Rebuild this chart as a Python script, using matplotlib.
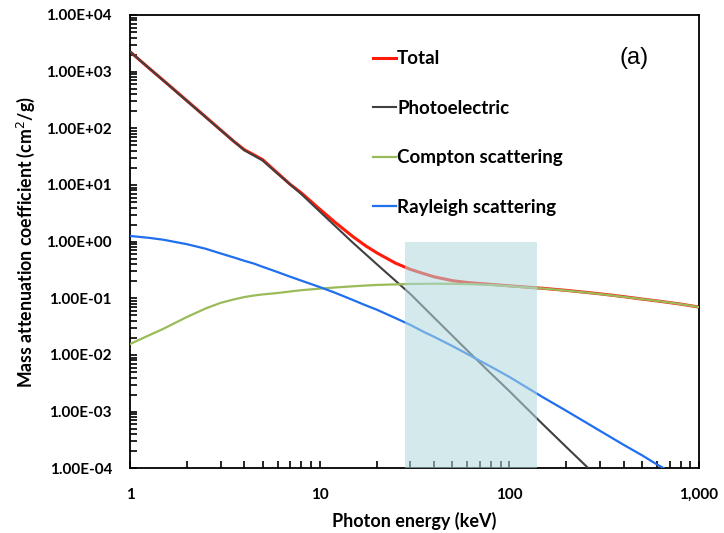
import matplotlib.pyplot as plt
import matplotlib.ticker as mticker
import numpy as np

# photon energies (keV) and mass attenuation coefficients (cm2/g)
energy = [1, 1.25, 1.5, 2, 2.5, 3, 3.5, 4, 4.5, 5, 6, 7, 8, 10, 12, 15, 17.5,
          20, 25, 30, 35, 40, 50, 60, 80, 100, 150, 200, 300, 400, 500, 600,
          800, 1000]
total = [2250, 1175, 700, 305, 160, 94, 60, 42, 34, 28, 16.2, 10.2, 7.25, 3.75,
         2.22, 1.22, 0.84, 0.635, 0.42, 0.325, 0.275, 0.24, 0.205, 0.19, 0.176,
         0.166, 0.150, 0.138, 0.120, 0.107, 0.097, 0.090, 0.079, 0.070]
compton = [0.0156, 0.022, 0.029, 0.047, 0.066, 0.083, 0.095, 0.105, 0.112,
           0.117, 0.124, 0.132, 0.139, 0.148, 0.155, 0.163, 0.168, 0.172,
           0.176, 0.179, 0.180, 0.181, 0.180, 0.178, 0.172, 0.164, 0.149,
           0.137, 0.119, 0.106, 0.097, 0.090, 0.079, 0.070]
rayleigh = [1.26, 1.17, 1.08, 0.90, 0.75, 0.62, 0.53, 0.46, 0.41, 0.36, 0.29,
            0.24, 0.205, 0.158, 0.126, 0.093, 0.075, 0.063, 0.045, 0.034,
            0.026, 0.021, 0.0144, 0.0104, 0.0062, 0.0041, 0.0018, 0.00103,
            0.00046, 0.00026, 0.00017, 0.000117, 0.000068, 0.000044]
photo_energy = [1, 1.5, 2, 3, 4, 4.5, 5, 6, 8, 10, 15, 20, 30, 40, 60, 80,
                100, 150, 200, 300]
photo = [2250, 693, 301, 93, 41, 33, 27, 15.8, 6.9, 3.4, 0.95, 0.40, 0.12,
         0.046, 0.012, 0.0047, 0.0023, 0.0006, 0.000236, 0.000064]

band = [28, 140]  # highlighted energy range

plt.rcParams['font.family'] = ['Lato', 'DejaVu Sans']

fig = plt.figure(figsize=(7.24, 5.33), dpi=100)
ax = fig.add_axes([0.1796, 0.1214, 0.7859, 0.8505])

ax.plot(energy, total, color='#ff1a0a', lw=2.2, label='Total', zorder=2)
ax.plot(photo_energy, photo, color='#404040', lw=1.5, label='Photoelectric', zorder=3)
ax.plot(energy, compton, color='#9bbb59', lw=1.6, label='Compton scattering', zorder=3)
ax.plot(energy, rayleigh, color='#1f6fee', lw=1.6, label='Rayleigh scattering', zorder=3)

ax.fill_between(band, 1e-4, 1, color='#b0d8de', alpha=0.55, lw=0, zorder=5)

ax.set_xscale('log')
ax.set_yscale('log')
ax.set_xlim(1, 1000)
ax.set_ylim(1e-4, 1e4)

ax.xaxis.set_major_locator(mticker.LogLocator(base=10))
ax.yaxis.set_major_locator(mticker.LogLocator(base=10, numticks=20))
ax.yaxis.set_minor_locator(mticker.LogLocator(base=10, subs=np.arange(2, 10), numticks=20))
ax.xaxis.set_major_formatter(mticker.FuncFormatter(lambda v, p: f'{v:,.0f}'))
ax.yaxis.set_major_formatter(mticker.FuncFormatter(lambda v, p: f'{v:.2E}'))
ax.yaxis.set_minor_formatter(mticker.NullFormatter())
ax.xaxis.set_minor_formatter(mticker.NullFormatter())

ax.tick_params(which='both', direction='in', width=1.2, length=5)
ax.tick_params(axis='y', which='major', pad=13)
ax.tick_params(axis='x', which='major', pad=14)
for lab in ax.get_xticklabels() + ax.get_yticklabels():
    lab.set_fontsize(11)
    lab.set_fontweight('bold')
for s in ax.spines.values():
    s.set_linewidth(1.3)
    s.set_color('black')

ax.set_xlabel('Photon energy (keV)', fontsize=13, fontweight='bold', labelpad=7)
ax.set_ylabel('Mass attenuation coefficient (cm$^2$/g)', fontsize=12.8,
              fontweight='bold', labelpad=7)

ax.legend(loc='upper left', bbox_to_anchor=(0.41, 0.943), frameon=False,
          prop={'weight': 'bold', 'size': 13.5}, handlelength=1.25,
          handletextpad=0.05, labelspacing=1.73, borderpad=0)

ax.text(0.885, 0.905, '(a)', transform=ax.transAxes, fontsize=17,
        family='Liberation Sans', ha='center', va='center')

fig.savefig('out.png', dpi=100)
